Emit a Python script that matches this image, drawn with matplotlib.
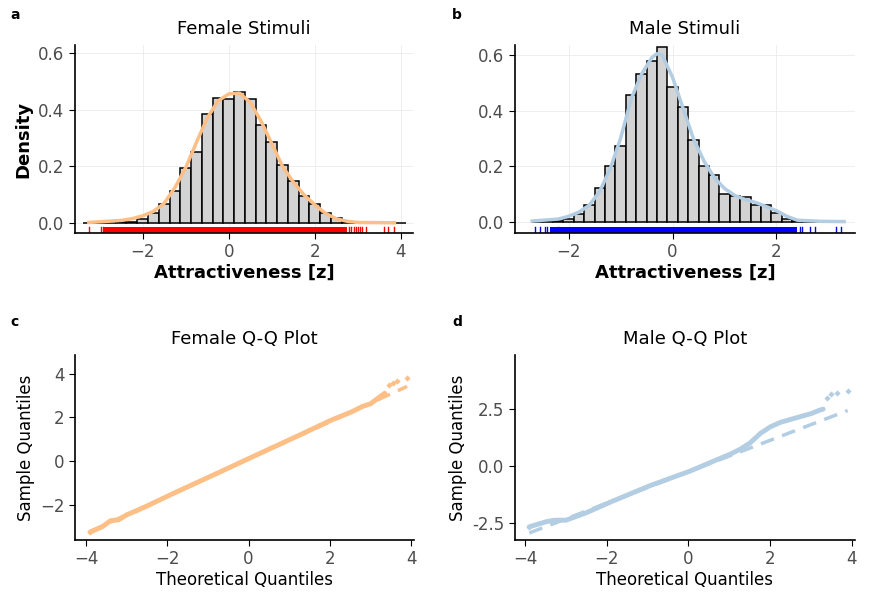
import numpy as np
import matplotlib
matplotlib.use("Agg")
import matplotlib.pyplot as plt
import matplotlib.transforms as mtransforms

# ---- data ----
f_centers = [-3.25, -3.0, -2.75, -2.5, -2.25, -2.0, -1.75, -1.5, -1.25, -1.0, -0.75, -0.5, -0.25, 0.0,
             0.25, 0.5, 0.75, 1.0, 1.25, 1.5, 1.75, 2.0, 2.25, 2.5, 2.75, 3.0, 3.25, 3.5, 3.75, 4.0]
f_heights = [0.001, 0.001, 0.002, 0.003, 0.006, 0.014, 0.035, 0.067, 0.115, 0.196, 0.25, 0.385, 0.44, 0.438,
             0.463, 0.438, 0.345, 0.286, 0.205, 0.15, 0.096, 0.067, 0.035, 0.018, 0.006, 0.003, 0.002, 0.001, 0.001, 0.001]
f_dens_x = [-3.25, -2.5, -2.25, -2.0, -1.75, -1.5, -1.25, -1.0, -0.75, -0.5, -0.25, 0.0, 0.25, 0.5, 0.75,
            1.0, 1.25, 1.5, 1.75, 2.0, 2.25, 2.5, 2.75, 3.0, 3.85]
f_dens_y = [0.003, 0.01, 0.016, 0.026, 0.042, 0.07, 0.125, 0.195, 0.285, 0.37, 0.43, 0.455, 0.458, 0.425, 0.36,
            0.28, 0.2, 0.145, 0.1, 0.065, 0.035, 0.016, 0.007, 0.003, 0.002]
f_rug_band = [-2.9, 2.75]
f_rug_single = [-3.25, -2.97, -2.93, 2.8, 2.85, 2.9, 2.95, 3.0, 3.05, 3.1, 3.2, 3.6, 3.7, 3.85]

m_centers = [-2.6, -2.4, -2.2, -2.0, -1.8, -1.6, -1.4, -1.2, -1.0, -0.8, -0.6, -0.4, -0.2, 0.0, 0.2, 0.4,
             0.6, 0.8, 1.0, 1.2, 1.4, 1.6, 1.8, 2.0, 2.2, 2.4, 2.6, 2.8, 3.0, 3.2]
m_heights = [0.001, 0.002, 0.004, 0.01, 0.028, 0.062, 0.122, 0.2, 0.273, 0.458, 0.532, 0.58, 0.63, 0.485,
             0.413, 0.293, 0.202, 0.169, 0.102, 0.092, 0.09, 0.06, 0.062, 0.032, 0.012, 0.004, 0.002, 0.001, 0.001, 0.001]
m_dens_x = [-2.7, -2.2, -2.0, -1.8, -1.6, -1.4, -1.2, -1.0, -0.8, -0.6, -0.4, -0.3, -0.2, 0.0, 0.2, 0.4, 0.6,
            0.8, 1.0, 1.2, 1.4, 1.6, 1.8, 2.0, 2.2, 2.4, 2.8, 3.3]
m_dens_y = [0.003, 0.01, 0.02, 0.035, 0.06, 0.11, 0.19, 0.3, 0.44, 0.53, 0.59, 0.605, 0.6, 0.52, 0.41, 0.3,
            0.22, 0.16, 0.12, 0.095, 0.08, 0.07, 0.055, 0.04, 0.02, 0.006, 0.002, 0.001]
m_rug_band = [-2.35, 2.4]
m_rug_single = [-2.65, -2.55, -2.45, -2.42, -2.2, 2.45, 2.5, 2.65, 2.75, 3.15, 3.25]

fq_theo = [-3.9, -3.6, -3.4, -3.2, -3.0, -2.8, -2.5, -2.0, -1.0, 0.0, 1.0, 2.0, 2.5, 2.8, 3.0, 3.2, 3.35]
fq_samp = [-3.24, -3.0, -2.72, -2.68, -2.45, -2.3, -2.05, -1.6, -0.75, 0.12, 0.97, 1.85, 2.22, 2.5, 2.62, 2.9, 3.1]
fq_tail_x = [3.45, 3.55, 3.65, 3.9]
fq_tail_y = [3.5, 3.55, 3.65, 3.82]
f_line = [0.1, 0.85]  # intercept, slope

mq_theo = [-3.9, -3.5, -3.3, -3.0, -2.8, -2.5, -2.0, -1.0, 0.0, 1.0, 1.25, 1.5, 1.75, 2.0, 2.25, 2.5, 2.8, 3.0, 3.2, 3.3]
mq_samp = [-2.67, -2.45, -2.38, -2.38, -2.25, -2.05, -1.65, -0.9, -0.25, 0.5, 0.72, 1.0, 1.42, 1.72, 1.92, 2.05, 2.2, 2.3, 2.45, 2.5]
mq_tail_x = [3.4, 3.5, 3.65, 3.9]
mq_tail_y = [3.0, 3.15, 3.2, 3.3]
m_line = [-0.25, 0.69]

# ---- styles ----
ORANGE = "#FDBF86"
BLUE = "#B3CDE3"
TICKC = "#4D4D4D"

fig = plt.figure(figsize=(8.71, 6.01), dpi=100)
W, H = 871, 601
def ax_at(l, t, r, b):
    return fig.add_axes([l / W, 1 - b / H, (r - l) / W, (b - t) / H])

axa = ax_at(75, 45, 413, 233)
axb = ax_at(515, 45, 855, 233)
axc = ax_at(75, 355, 414, 540)
axd = ax_at(515, 355, 855, 540)

def style(ax, grid):
    for s in ["top", "right"]:
        ax.spines[s].set_visible(False)
    for s in ["left", "bottom"]:
        ax.spines[s].set_linewidth(1.2)
    ax.tick_params(labelsize=12, colors="black", labelcolor=TICKC, length=4)
    if grid:
        ax.grid(True, color="#EBEBEB", linewidth=0.6)
        ax.set_axisbelow(True)

def hist_panel(ax, centers, heights, width, dx, dy, rug_band, rug_single, curve_col, rug_col, title):
    style(ax, True)
    ax.bar(centers, heights, width=width, color="#D3D3D3", edgecolor="black", linewidth=1.1)
    xs = np.linspace(dx[0], dx[-1], 400)
    ax.plot(xs, np.interp(xs, dx, dy), color=curve_col, linewidth=2.5)
    tr = mtransforms.blended_transform_factory(ax.transData, ax.transAxes)
    ax.fill_between(rug_band, [0, 0], [0.03, 0.03], color=rug_col, transform=tr, linewidth=0)
    for v in rug_single:
        ax.plot([v, v], [0, 0.03], color=rug_col, transform=tr, linewidth=1.0)
    ax.set_title(title, fontsize=13, pad=8)
    ax.set_xlabel("Attractiveness [z]", fontsize=13, fontweight="bold", labelpad=2)
    ax.set_yticks([0.0, 0.2, 0.4, 0.6])
    ax.set_yticklabels(["0.0", "0.2", "0.4", "0.6"])

hist_panel(axa, f_centers, f_heights, 0.25, f_dens_x, f_dens_y, f_rug_band, f_rug_single, ORANGE, "red", "Female Stimuli")
axa.set_xlim(-3.57, 4.28); axa.set_ylim(-0.034, 0.627)
axa.set_xticks([-2, 0, 2, 4])
axa.set_ylabel("Density", fontsize=13, fontweight="bold")

hist_panel(axb, m_centers, m_heights, 0.2, m_dens_x, m_dens_y, m_rug_band, m_rug_single, BLUE, "blue", "Male Stimuli")
axb.set_xlim(-3.03, 3.51); axb.set_ylim(-0.04, 0.636)
axb.set_xticks([-2, 0, 2])

def qq_panel(ax, tx, ty, tailx, taily, line, col, title):
    style(ax, False)
    xl = np.array([-3.9, 3.9])
    ax.plot(xl, line[0] + line[1] * xl, color=col, linewidth=2.5, linestyle=(0, (4, 2.5)))
    xs = np.linspace(tx[0], tx[-1], 600)
    ax.plot(xs, np.interp(xs, tx, ty), color=col, linewidth=3.5, solid_capstyle="round")
    ax.scatter(tailx, taily, s=10, color=col, marker="D", linewidths=0)
    ax.scatter([tx[0]], [ty[0]], s=10, color=col, marker="D", linewidths=0)
    ax.set_title(title, fontsize=13, pad=8)
    ax.set_xlabel("Theoretical Quantiles", fontsize=12, labelpad=2)
    ax.set_ylabel("Sample Quantiles", fontsize=12)
    ax.set_xticks([-4, -2, 0, 2, 4])

qq_panel(axc, fq_theo, fq_samp, fq_tail_x, fq_tail_y, f_line, ORANGE, "Female Q-Q Plot")
axc.set_xlim(-4.27, 4.07); axc.set_ylim(-3.6, 4.85)
axc.set_yticks([-2, 0, 2, 4])

qq_panel(axd, mq_theo, mq_samp, mq_tail_x, mq_tail_y, m_line, BLUE, "Male Q-Q Plot")
axd.set_xlim(-4.25, 4.08); axd.set_ylim(-3.25, 4.88)
axd.set_yticks([-2.5, 0, 2.5])
axd.set_yticklabels(["-2.5", "0.0", "2.5"])

for lab, x, y in [("a", 10, 15), ("b", 452, 15), ("c", 10, 322), ("d", 452, 322)]:
    fig.text(x / W, 1 - y / H, lab, fontsize=10, fontweight="bold", va="center")

fig.savefig("out.png", dpi=100)
